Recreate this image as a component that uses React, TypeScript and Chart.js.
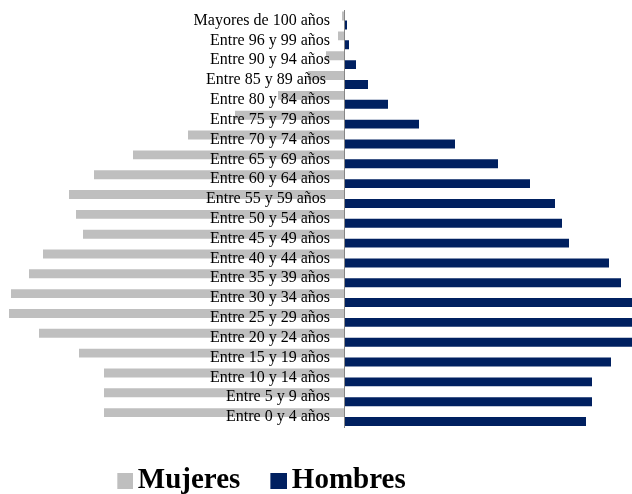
import React, { useEffect, useRef } from "react";
import { Chart, registerables } from "chart.js";

Chart.register(...registerables);

const categories = [
  "Mayores de 100 años",
  "Entre 96 y 99 años",
  "Entre 90 y 94 años",
  "Entre 85 y 89 años ",
  "Entre 80 y 84 años",
  "Entre 75 y 79 años",
  "Entre 70 y 74 años",
  "Entre 65 y 69 años",
  "Entre 60 y 64 años",
  "Entre 55 y 59 años ",
  "Entre 50 y 54 años",
  "Entre 45 y 49 años",
  "Entre 40 y 44 años",
  "Entre 35 y 39 años",
  "Entre 30 y 34 años",
  "Entre 25 y 29 años",
  "Entre 20 y 24 años",
  "Entre 15 y 19 años",
  "Entre 10 y 14 años",
  "Entre 5 y 9 años",
  "Entre 0 y 4 años",
];

// Mujeres drawn to the left (negative values)
const mujeres = [
  -2, -6, -18, -36, -66, -109, -156, -211, -250, -275, -268, -261, -301, -315,
  -333, -335, -305, -265, -240, -240, -240,
];

const hombres = [
  3, 5, 12, 24, 44, 75, 111, 154, 186, 211, 218, 225, 265, 277, 300, 310, 300,
  267, 248, 248, 242,
];

const xMin = -474;
const xMax = 288;
const labelOffset = -14;

const colorMujeres = "#BFBFBF";
const colorHombres = "#002060";

const serif = "'Liberation Serif', 'Times New Roman', Times, serif";

function legendSwatch(color: string, size: number): HTMLCanvasElement {
  const c = document.createElement("canvas");
  c.width = 47;
  c.height = 16;
  const ctx = c.getContext("2d");
  if (ctx) {
    ctx.fillStyle = color;
    ctx.fillRect(47 - size, 0, size, 16);
  }
  return c;
}

export default function App() {
  const ref = useRef<HTMLCanvasElement | null>(null);

  useEffect(() => {
    if (!ref.current) return;
    const chart = new Chart(ref.current, {
      type: "bar",
      data: {
        labels: categories,
        datasets: [
          {
            label: "Mujeres",
            data: mujeres,
            backgroundColor: colorMujeres,
            borderWidth: 0,
            categoryPercentage: 0.9,
            barPercentage: 1.0,
            yAxisID: "y",
            pointStyle: legendSwatch(colorMujeres, 16) as any,
          },
          {
            label: "Hombres",
            data: hombres,
            backgroundColor: colorHombres,
            borderWidth: 0,
            categoryPercentage: 0.9,
            barPercentage: 1.0,
            yAxisID: "y",
            pointStyle: legendSwatch(colorHombres, 17) as any,
          },
        ],
      },
      options: {
        indexAxis: "y",
        responsive: false,
        animation: false,
        layout: { padding: { top: -8, left: 0, right: 0, bottom: 0 } },
        scales: {
          x: {
            min: xMin,
            max: xMax,
            display: true,
            grid: { display: false },
            border: { display: false },
            ticks: { display: false },
            afterFit: (scale: any) => {
              scale.height = 29;
            },
          },
          y: {
            position: { x: labelOffset } as any,
            grid: { display: false },
            border: { display: false },
            ticks: {
              autoSkip: false,
              z: 1,
              color: "#000000",
              font: { family: serif, size: 16 },
            },
          },
          y2: {
            type: "category",
            labels: categories,
            position: { x: 0 } as any,
            grid: { display: false },
            border: { display: true, color: "#868686", width: 1, z: 1 },
            ticks: { display: false },
          },
        },
        plugins: {
          tooltip: { enabled: false },
          legend: {
            position: "bottom",
            labels: {
              usePointStyle: true,
              boxWidth: 27,
              padding: 10,
              color: "#000000",
              font: { family: serif, size: 29, weight: "bold" },
            },
          },
        },
      },
    });
    return () => chart.destroy();
  }, []);

  return (
    <div
      style={{
        position: "fixed",
        left: 0,
        top: 0,
        width: 632,
        height: 494,
        overflow: "hidden",
        background: "#ffffff",
      }}
    >
      <canvas
        ref={ref}
        width={762}
        height={507}
        style={{ position: "absolute", left: -130, top: -2, width: 762, height: 507 }}
      />
    </div>
  );
}
